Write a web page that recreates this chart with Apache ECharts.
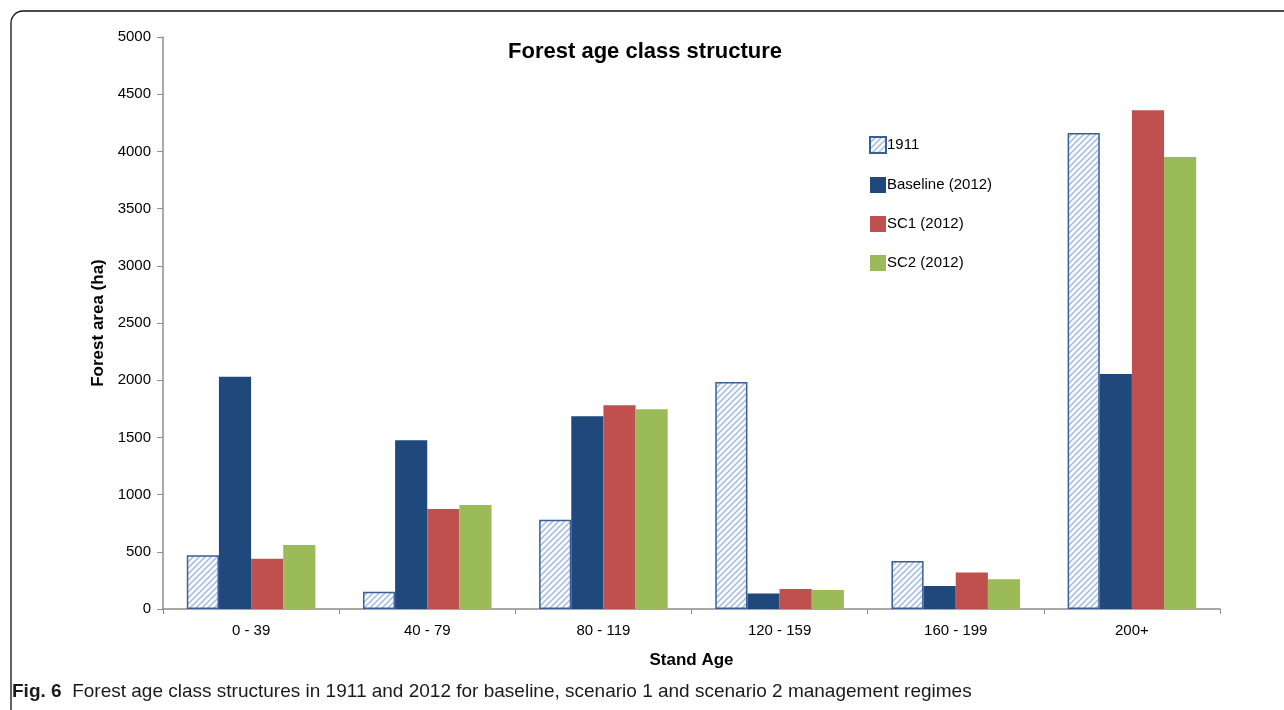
<!DOCTYPE html>
<html>
<head>
<meta charset="utf-8">
<script src="https://cdn.jsdelivr.net/npm/echarts@6/dist/echarts.min.js"></script>
<style>
  html, body { margin: 0; padding: 0; background: #fff; }
  #main { width: 1284px; height: 710px; }
</style>
</head>
<body>
<div id="main"></div>
<script>
// age classes and forest area (ha)
const categories = ['0 - 39', '40 - 79', '80 - 119', '120 - 159', '160 - 199', '200+'];
const y1911 = [470, 150, 780, 1985, 420, 4160];
const baseline = [2030, 1475, 1685, 135, 200, 2055];
const sc1 = [440, 875, 1780, 175, 320, 4360];
const sc2 = [560, 910, 1745, 165, 260, 3950];
const yTicks = { min: 0, max: 5000, interval: 500 };

// hatched fill for 1911
function hatch() {
  const c = document.createElement('canvas');
  c.width = 6; c.height = 6;
  const ctx = c.getContext('2d');
  ctx.fillStyle = '#ffffff';
  ctx.fillRect(0, 0, 6, 6);
  ctx.strokeStyle = '#a9c0e3';
  ctx.lineWidth = 1.6;
  ctx.beginPath();
  ctx.moveTo(-1, 7); ctx.lineTo(7, -1);
  ctx.moveTo(-4, 4); ctx.lineTo(4, -4);
  ctx.moveTo(2, 10); ctx.lineTo(10, 2);
  ctx.stroke();
  return c;
}

const font = '"Liberation Sans", "DejaVu Sans", sans-serif';
const myChart = echarts.init(document.getElementById('main'));

const option = {
  animation: false,
  textStyle: { fontFamily: font },
  title: {
    text: 'Forest age class structure',
    left: 640, top: 36, textAlign: 'center',
    textStyle: { fontSize: 22, fontWeight: 'bold', color: '#000', fontFamily: font }
  },
  legend: {
    orient: 'vertical',
    left: 864, top: 131,
    itemWidth: 16, itemHeight: 16, itemGap: 23,
    icon: 'rect',
    textStyle: { fontSize: 15, color: '#000', padding: [0, 0, 0, -4] },
    data: ['1911', 'Baseline (2012)', 'SC1 (2012)', 'SC2 (2012)']
  },
  grid: { left: 163, right: 64, top: 37, bottom: 101 },
  xAxis: {
    type: 'category',
    data: categories,
    name: 'Stand Age',
    nameLocation: 'middle',
    nameGap: 43,
    nameTextStyle: { fontSize: 17, fontWeight: 'bold', color: '#000' },
    axisLine: { lineStyle: { color: '#8c8c8c', width: 1.5 } },
    axisTick: { show: true, length: 5, alignWithLabel: false, lineStyle: { color: '#8c8c8c' } },
    axisLabel: { fontSize: 15, color: '#000', margin: 14 }
  },
  yAxis: {
    type: 'value',
    min: yTicks.min, max: yTicks.max, interval: yTicks.interval,
    name: 'Forest area (ha)',
    nameLocation: 'middle',
    nameGap: 55,
    nameTextStyle: { fontSize: 17, fontWeight: 'bold', color: '#000' },
    axisLine: { show: true, lineStyle: { color: '#8c8c8c', width: 1.5 } },
    axisTick: { show: true, length: 6, lineStyle: { color: '#8c8c8c' } },
    axisLabel: { fontSize: 15, color: '#000', margin: 12, formatter: (v) => String(v) },
    splitLine: { show: false }
  },
  series: [
    {
      name: '1911', type: 'bar', data: y1911,
      barGap: '0%', barCategoryGap: '27%',
      itemStyle: { color: { image: hatch(), repeat: 'repeat' }, borderColor: '#3a5f95', borderWidth: 1.5 }
    },
    { name: 'Baseline (2012)', type: 'bar', data: baseline, itemStyle: { color: '#1f497d' } },
    { name: 'SC1 (2012)', type: 'bar', data: sc1, itemStyle: { color: '#c0504d' } },
    { name: 'SC2 (2012)', type: 'bar', data: sc2, itemStyle: { color: '#9bbb59' } }
  ],
  graphic: [
    {
      type: 'rect', silent: true,
      shape: { x: 11, y: 11, width: 1300, height: 720, r: 12 },
      style: { fill: null, stroke: '#111', lineWidth: 1.3 }
    },
    {
      type: 'text', left: 12, top: 682,
      style: {
        rich: {
          b: { fontSize: 19, fontWeight: 'bold', fill: '#1a1a1a', fontFamily: font },
          n: { fontSize: 19, fill: '#1a1a1a', fontFamily: font }
        },
        text: '{b|Fig. 6}{n|  Forest age class structures in 1911 and 2012 for baseline, scenario 1 and scenario 2 management regimes}'
      }
    }
  ]
};
myChart.setOption(option);
</script>
</body>
</html>
